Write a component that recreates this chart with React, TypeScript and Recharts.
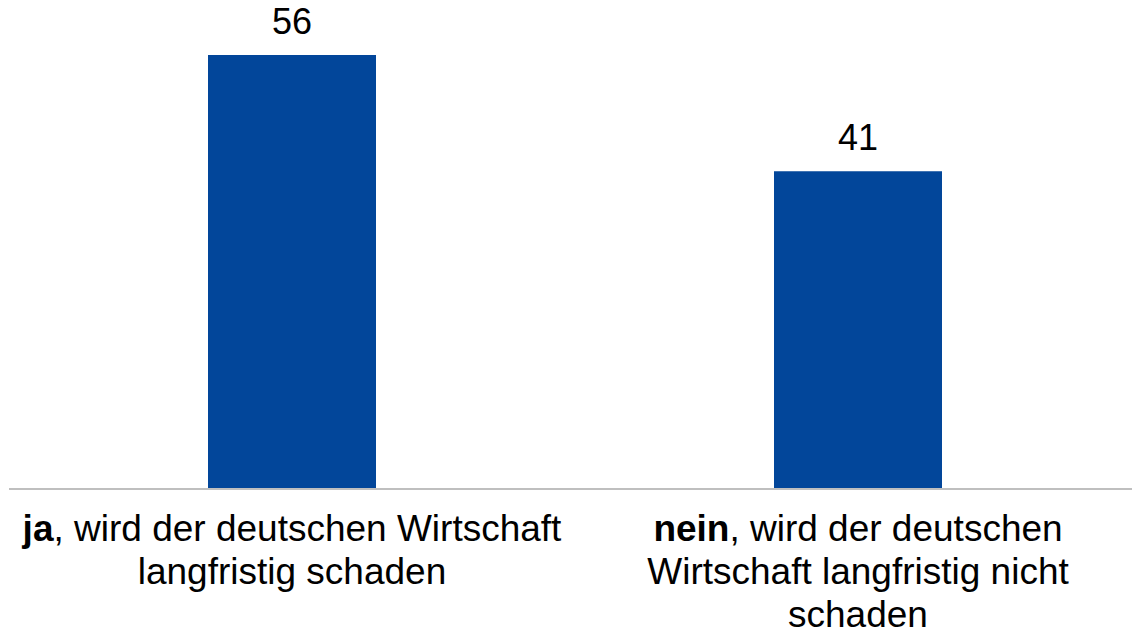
import React from "react";
import { BarChart, Bar, XAxis, YAxis, LabelList } from "recharts";

const categories = ["ja", "nein"];
const values = [56, 41];
const tickBold = ["ja", "nein"];
const tickLines: string[][] = [
  [", wird der deutschen Wirtschaft", "langfristig schaden"],
  [", wird der deutschen", "Wirtschaft langfristig nicht", "schaden"],
];

const data = categories.map((c, i) => ({ name: c, value: values[i] }));

const FONT = "'Liberation Sans', Arial, sans-serif";

const Tick = (props: any) => {
  const { x, y, index } = props;
  const lines = tickLines[index] || [];
  return (
    <g>
      {lines.map((ln, j) => (
        <text
          key={j}
          x={x}
          y={y + 44 + j * 43}
          textAnchor="middle"
          fontFamily={FONT}
          fontSize={37}
          fill="#000"
        >
          {j === 0 ? (
            <>
              <tspan fontWeight="bold">{tickBold[index]}</tspan>
              <tspan>{ln}</tspan>
            </>
          ) : (
            ln
          )}
        </text>
      ))}
    </g>
  );
};

export default function App() {
  return (
    <div
      style={{
        position: "absolute",
        left: 0,
        top: 0,
        width: 1132,
        height: 630,
        overflow: "hidden",
        background: "#fff",
      }}
    >
      <BarChart
        width={1150}
        height={630}
        data={data}
        margin={{ top: 24, right: 9, bottom: 0, left: 9 }}
        barSize={168}
      >
        <XAxis
          dataKey="name"
          height={141}
          axisLine={{ stroke: "#bfbfbf", strokeWidth: 2 }}
          tickLine={false}
          tick={<Tick />}
          interval={0}
        />
        <YAxis hide domain={[0, 60]} />
        <Bar dataKey="value" fill="#02469A" isAnimationActive={false}>
          <LabelList
            dataKey="value"
            position="top"
            offset={21}
            fontFamily={FONT}
            fontSize={36}
            fill="#000"
          />
        </Bar>
      </BarChart>
    </div>
  );
}
